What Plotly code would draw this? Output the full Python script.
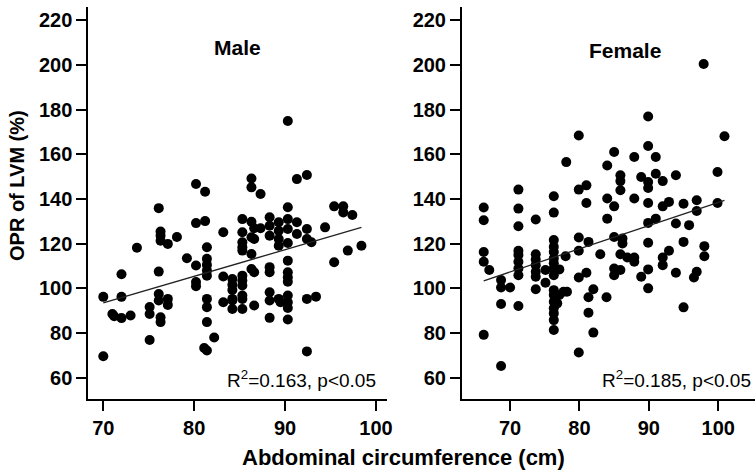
import plotly.graph_objects as go

# ---------------- data ----------------
male_x = [70.0, 70.0, 71.0, 71.2, 72.0, 72.0, 72.0, 73.0, 73.7, 75.1, 75.1, 75.1,
          76.1, 76.3, 76.3, 76.3, 77.1, 78.1, 76.1, 76.1, 76.1, 76.3, 76.3, 77.1, 77.1,
          79.2, 80.2, 81.2, 80.2, 81.2, 80.2, 80.2, 80.2, 81.4, 81.4, 81.4, 81.4, 81.4,
          81.4, 81.4, 81.4, 82.2, 81.1, 81.4, 83.2, 83.2, 83.2, 84.2, 84.2, 84.2, 84.2,
          84.2, 84.2, 85.3, 85.3, 85.3, 85.3, 85.3, 85.3, 85.3, 85.3, 85.3, 85.3, 85.3,
          90.3, 86.3, 86.3, 87.3, 91.3, 92.4, 90.3, 95.4, 96.4, 96.4, 97.4, 94.4, 98.4,
          96.9, 95.4, 86.3, 86.6, 87.3, 86.3, 86.6, 86.3, 86.3, 86.6, 88.3, 88.3, 88.3,
          89.3, 89.3, 89.3, 89.3, 90.3, 90.3, 90.3, 91.3, 91.3, 92.4, 92.4, 92.9, 88.3,
          88.3, 90.3, 90.3, 90.3, 90.3, 88.3, 88.3, 89.3, 89.5, 90.3, 90.3, 90.3, 88.3,
          90.3, 92.4, 93.4, 92.4, 86.6]
male_y = [96.2, 69.6, 88.5, 87.5, 106.3, 96.2, 86.7, 87.9, 118.2, 91.7, 88.5, 76.9,
          135.9, 125.4, 123.6, 121.3, 119.9, 123.0, 107.5, 97.5, 94.6, 87.1, 84.9, 95.3, 92.6,
          113.5, 146.7, 143.2, 129.2, 130.1, 110.2, 102.8, 101.0, 118.4, 113.2, 110.5, 108.0, 105.7,
          95.3, 91.6, 84.9, 78.0, 73.3, 72.2, 125.1, 105.3, 93.8, 104.2, 101.6, 99.3, 95.3,
          90.8, 94.6, 131.0, 125.1, 120.6, 118.4, 116.9, 105.7, 103.5, 101.3, 96.8, 95.3, 90.8,
          174.9, 149.2, 145.2, 142.2, 148.9, 150.7, 136.3, 136.7, 136.7, 134.0, 132.8, 127.3, 119.1,
          116.9, 111.7, 129.8, 126.9, 126.9, 122.9, 122.1, 115.4, 108.7, 107.2, 131.8, 128.0, 123.6,
          129.6, 125.8, 122.1, 119.1, 131.0, 126.6, 120.3, 129.6, 124.3, 126.6, 122.1, 120.6, 109.5,
          107.2, 112.4, 107.2, 105.0, 103.0, 98.3, 94.6, 95.3, 93.8, 96.8, 93.8, 91.2, 86.8,
          86.1, 95.3, 96.3, 71.8, 92.3]

female_x = [66.2, 66.2, 66.2, 66.2, 67.0, 66.2, 68.7, 68.7, 68.7, 68.7, 70.0,
            71.2, 71.2, 71.2, 71.2, 71.2, 71.2, 71.2, 71.2, 71.2,
            73.7, 73.7, 73.7, 73.7, 73.7, 73.7, 73.7, 75.1, 75.1,
            76.3, 76.3, 76.3, 76.3, 76.3, 76.3, 76.3, 76.3, 76.3, 76.3, 76.3, 76.3, 76.3,
            76.3, 76.3, 76.3, 77.1, 76.8, 77.7, 78.2, 78.0, 77.1,
            79.9, 79.9, 79.9, 79.9, 79.9, 78.1, 79.9, 97.9, 89.9, 100.9, 85.0, 89.9,
            87.9, 91.0, 84.0, 99.9, 93.9, 85.9, 85.9, 85.9, 88.9, 89.9, 89.9, 91.0, 92.0,
            81.0, 81.0, 84.0, 87.9, 89.9, 92.9, 95.0, 96.9, 99.9, 85.0, 92.0, 96.9,
            84.0, 89.9, 91.0, 93.9, 95.8, 81.3, 85.0, 86.2, 86.2, 83.0, 85.9, 86.9, 87.9,
            87.9, 89.9, 95.0, 92.9, 92.0, 92.0, 98.0, 98.0, 85.0, 85.0, 85.9, 81.0,
            88.9, 89.9, 93.9, 96.9, 96.5, 89.9, 82.0, 81.3, 83.9, 81.3, 82.0, 95.0]
female_y = [136.2, 130.5, 116.3, 111.9, 108.2, 79.2, 65.3, 103.7, 100.4, 93.0, 100.4,
            144.2, 135.7, 127.8, 116.8, 114.9, 111.9, 108.9, 105.9, 92.1,
            130.8, 115.3, 112.9, 110.4, 107.4, 105.2, 99.6, 108.2, 102.5,
            141.2, 133.9, 121.6, 118.6, 116.3, 113.4, 111.2, 108.9, 105.9, 99.2, 97.0, 94.0, 91.1,
            88.8, 85.8, 81.4, 108.5, 93.3, 98.5, 98.5, 114.4, 97.0,
            144.2, 122.8, 116.8, 104.9, 71.3, 156.5, 168.4, 200.4, 176.9, 168.1, 161.0, 163.7,
            158.8, 158.8, 155.0, 152.1, 150.6, 150.6, 148.0, 143.9, 149.8, 147.6, 144.9, 151.3, 148.0,
            146.1, 138.2, 140.2, 140.2, 138.2, 138.7, 137.9, 139.4, 138.2, 136.7, 136.7, 134.6,
            131.2, 129.3, 131.2, 129.0, 128.3, 120.8, 123.0, 122.3, 120.1, 115.3, 115.3, 113.8, 113.8,
            111.9, 120.4, 120.8, 116.8, 113.8, 110.4, 118.9, 114.4, 108.9, 105.9, 108.2, 107.0,
            105.2, 108.5, 107.0, 107.4, 104.9, 100.0, 99.6, 96.0, 96.0, 89.1, 80.2, 91.5]

male_fit_x = [70.0, 98.4]
male_fit_y = [93.5, 127.3]
female_fit_x = [66.2, 100.9]
female_fit_y = [103.4, 139.4]

x_ticks = [70, 80, 90, 100]
y_ticks = [60, 80, 100, 120, 140, 160, 180, 200, 220]
panel_titles = ["Male", "Female"]
stat_texts = ["R<sup>2</sup>=0.163, p<0.05", "R<sup>2</sup>=0.185, p<0.05"]
x_title = "Abdominal circumference (cm)"
y_title = "OPR of LVM (%)"

# ---------------- layout helpers ----------------
W, H = 755, 475
def fx(p):
    return p / W
def fy(p):
    return 1 - p / H

FONT = "Liberation Sans, Arial, sans-serif"

fig = go.Figure()
marker = dict(color="black", size=10, line=dict(width=0))
fig.add_trace(go.Scatter(x=male_x, y=male_y, mode="markers", marker=marker,
                         xaxis="x", yaxis="y", showlegend=False))
fig.add_trace(go.Scatter(x=male_fit_x, y=male_fit_y, mode="lines",
                         line=dict(color="#222222", width=1.3),
                         xaxis="x", yaxis="y", showlegend=False))
fig.add_trace(go.Scatter(x=female_x, y=female_y, mode="markers", marker=marker,
                         xaxis="x2", yaxis="y2", showlegend=False))
fig.add_trace(go.Scatter(x=female_fit_x, y=female_fit_y, mode="lines",
                         line=dict(color="#222222", width=1.3),
                         xaxis="x2", yaxis="y2", showlegend=False))

tickfont = dict(family=FONT, size=20, color="black", weight="bold")
axis_common = dict(showline=True, linecolor="black", linewidth=2, mirror=False,
                   ticks="outside", ticklen=10, tickwidth=2, tickcolor="black",
                   showgrid=False, zeroline=False, tickfont=tickfont,
                   automargin=False, fixedrange=True)

ydom = [fy(399), fy(7)]
fig.update_layout(
    width=W, height=H,
    margin=dict(l=0, r=0, t=0, b=0),
    paper_bgcolor="white", plot_bgcolor="white",
    template="none",
    xaxis=dict(domain=[fx(88.3), fx(386.7)], range=[68.35, 101.18],
               tickvals=x_ticks, anchor="y", **axis_common),
    yaxis=dict(domain=ydom, range=[50.5, 225.9], tickvals=y_ticks,
               anchor="x", **axis_common),
    xaxis2=dict(domain=[fx(462), 1.0], range=[63.07, 105.3],
                tickvals=x_ticks, anchor="y2", **axis_common),
    yaxis2=dict(domain=ydom, range=[50.5, 225.9], tickvals=y_ticks,
                anchor="x2", **axis_common),
    showlegend=False,
)

ann = []
ann.append(dict(text=f"<b>{panel_titles[0]}</b>", x=fx(237), y=fy(47), xref="paper", yref="paper",
                showarrow=False, xanchor="center", yanchor="middle",
                font=dict(family=FONT, size=21, color="black")))
ann.append(dict(text=f"<b>{panel_titles[1]}</b>", x=fx(625), y=fy(50), xref="paper", yref="paper",
                showarrow=False, xanchor="center", yanchor="middle",
                font=dict(family=FONT, size=21, color="black")))
ann.append(dict(text=stat_texts[0], x=fx(378), y=fy(379), xref="paper", yref="paper",
                showarrow=False, xanchor="right", yanchor="middle",
                font=dict(family=FONT, size=19, color="black")))
ann.append(dict(text=stat_texts[1], x=fx(753), y=fy(379), xref="paper", yref="paper",
                showarrow=False, xanchor="right", yanchor="middle",
                font=dict(family=FONT, size=19, color="black")))
ann.append(dict(text=f"<b>{x_title}</b>", x=fx(403), y=fy(457), xref="paper", yref="paper",
                showarrow=False, xanchor="center", yanchor="middle",
                font=dict(family=FONT, size=22, color="black")))
ann.append(dict(text=f"<b>{y_title}</b>", x=fx(17), y=fy(186), xref="paper", yref="paper",
                showarrow=False, xanchor="center", yanchor="middle", textangle=-90,
                font=dict(family=FONT, size=20, color="black")))
fig.update_layout(annotations=ann)

fig.write_html("out.html")
